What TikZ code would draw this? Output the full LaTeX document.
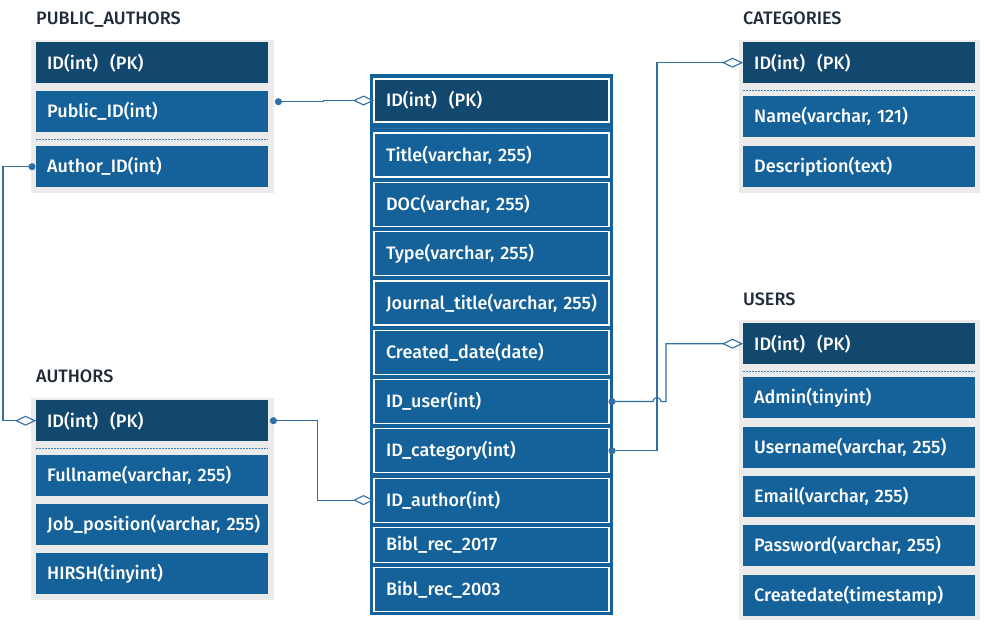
\documentclass[tikz,border=0pt]{standalone}
\usepackage{fontspec}
\setmainfont{Fira Sans}[UprightFont={* Medium}]
\usetikzlibrary{arrows.meta,positioning}
\definecolor{dkblue}{HTML}{12476E}
\definecolor{mdblue}{HTML}{15629A}
\definecolor{lnblue}{HTML}{2F6EA6}
\definecolor{sepblue}{HTML}{3F7DB5}
\definecolor{ttlgray}{HTML}{1E2B38}
\definecolor{tblgray}{HTML}{EBEBEB}

\begin{document}
\begin{tikzpicture}[x=1pt, y=-1pt,
		font=\fontsize{18}{21}\selectfont,
		ttl/.style={anchor=base west, inner sep=0pt, text=ttlgray},
		pkrow/.style={rectangle, fill=dkblue, text=white, anchor=north west,
				minimum height=41pt, text width=230pt, inner xsep=1pt, inner ysep=0pt, align=left,
				execute at begin node={\hspace*{10pt}}},
		row/.style={pkrow, fill=mdblue},
		crow/.style={rectangle, fill=mdblue, draw=white, line width=1.2pt, outer sep=0pt, text=white,
				minimum height=44pt, text width=233pt, inner xsep=1pt, inner ysep=0pt, align=left,
				execute at begin node={\hspace*{11pt}}},
		sep/.style={draw=sepblue, line width=0.8pt, dash pattern=on 2pt off 1pt},
		fk/.style={draw=lnblue, line width=1.1pt,
				{Circle[length=7pt]}-{Diamond[open, length=21pt, width=10pt]}}
	]
	\useasboundingbox (0,0) rectangle (984,625);
	% table backgrounds
	\fill[tblgray] (31,40) rectangle (274,193);
	\fill[tblgray] (31,398) rectangle (274,600);
	\fill[tblgray] (739,40) rectangle (980,193);
	\fill[tblgray] (739,320) rectangle (980,620);
	\fill[mdblue] (370,74) rectangle (613,615);
	% PUBLIC_AUTHORS
	\node[ttl] (tpubauth) at (36,24) {PUBLIC\_AUTHORS};
	\node[pkrow] (paid) at (36,42) {ID(int)~~(PK)};
	\node[row] (papub) at (36,91) {Public\_ID(int)};
	\draw[sep] (36,139) -- (268,139);
	\node[row] (paauth) at (36,146) {Author\_ID(int)};
	% AUTHORS
	\node[ttl] (tauth) at (36,382) {AUTHORS};
	\node[pkrow] (athid) at (36,400) {ID(int)~~(PK)};
	\draw[sep] (36,448) -- (268,448);
	\node[row] (athname) at (36,455) {Fullname(varchar, 255)};
	\node[row] (athjob) at (36,504) {Job\_position(varchar, 255)};
	\node[row] (athhirsh) at (36,553) {HIRSH(tinyint)};
	% CATEGORIES
	\node[ttl] (tcat) at (743,24) {CATEGORIES};
	\node[pkrow] (catid) at (743,42) {ID(int)~~(PK)};
	\draw[sep] (743,90) -- (975,90);
	\node[row] (catname) at (743,96) {Name(varchar, 121)};
	\node[row] (catdesc) at (743,146) {Description(text)};
	% USERS
	\node[ttl] (tuser) at (743,305) {USERS};
	\node[pkrow] (uid) at (743,323) {ID(int)~~(PK)};
	\draw[sep] (743,371) -- (975,371);
	\node[row] (uadmin) at (743,377) {Admin(tinyint)};
	\node[row] (uname) at (743,427) {Username(varchar, 255)};
	\node[row] (umail) at (743,476) {Email(varchar, 255)};
	\node[row] (upass) at (743,525) {Password(varchar, 255)};
	\node[row] (udate) at (743,575) {Createdate(timestamp)};
	% publications (central table)
	\node[crow, fill=dkblue, anchor=north west, minimum height=43pt] (cid) at (374,79) {ID(int)~~(PK)};
	\draw[sep, draw=sepblue!70!mdblue] (374,128) -- (609,128);
	\node[crow, below=11pt of cid] (ctitle) {Title(varchar, 255)};
	\node[crow, below=5.3pt of ctitle] (cdoc) {DOC(varchar, 255)};
	\node[crow, below=5.3pt of cdoc] (ctype) {Type(varchar, 255)};
	\node[crow, below=5.3pt of ctype] (cjournal) {Journal\_title(varchar, 255)};
	\node[crow, below=5.3pt of cjournal] (cdate) {Created\_date(date)};
	\node[crow, below=5.3pt of cdate] (cuser) {ID\_user(int)};
	\node[crow, below=5.3pt of cuser] (ccat) {ID\_category(int)};
	\node[crow, below=5.3pt of ccat] (cauthor) {ID\_author(int)};
	\node[crow, below=5.3pt of cauthor, minimum height=35pt] (cbib17) {Bibl\_rec\_2017};
	\node[crow, below=5.3pt of cbib17] (cbib03) {Bibl\_rec\_2003};
	% relations
	\draw[fk] ([xshift=6.5pt, yshift=10pt]papub.east) -- ++(48.5,0) |- (cid.west);
	\draw[fk] ([xshift=-0.5pt]paauth.west) -- ++(-32.5,0) |- (athid.west);
	\draw[fk] ([xshift=1.5pt]athid.east) -- ++(47.5,0) |- (cauthor.west);
	\draw[fk] ([xshift=-0.5pt]ccat.east) -- ++(48.5,0) |- (catid.west);
	\draw[fk] ([xshift=-0.5pt]cuser.east) -- ++(44.5,0)
		arc[start angle=180, end angle=360, radius=4] -- ++(5,0) |- (uid.west);
\end{tikzpicture}
\end{document}
